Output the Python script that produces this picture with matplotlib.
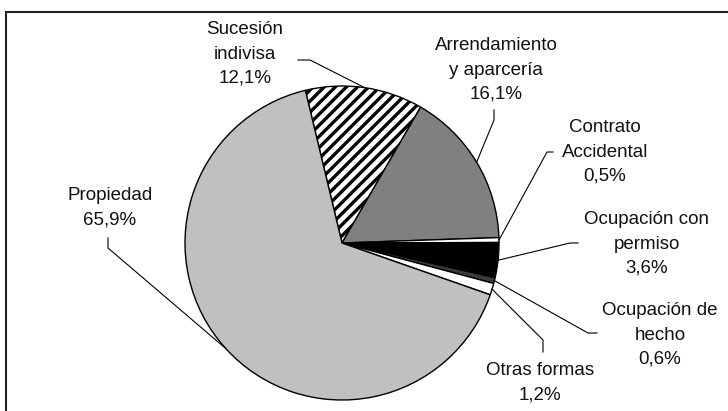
import numpy as np
import matplotlib.pyplot as plt
from matplotlib.patches import Rectangle

plt.rcParams['font.family'] = ['Liberation Sans', 'DejaVu Sans']
plt.rcParams['hatch.linewidth'] = 2.4

# ── datos ──────────────────────────────────────────────────────────────
categorias = ["Sucesión\nindivisa", "Arrendamiento\ny aparcería", "Contrato\nAccidental",
              "Ocupación con\npermiso", "Ocupación de\nhecho", "Otras formas", "Propiedad"]
porcentajes = [12.1, 16.1, 0.5, 3.6, 0.6, 1.2, 65.9]
colores = ["white", "#808080", "white", "black", "#3a3a3a", "white", "#c0c0c0"]
tramas = ["///", None, None, None, None, None, None]

# posiciones en pixeles de la imagen (y hacia abajo): texto y quiebre de la guía
W, H = 728, 411
CX, CY, R = 342, 243, 157
texto_xy = [(245, 54), (496, 70), (605, 152), (647, 244), (660, 335), (540, 383), (110, 208)]
quiebre = [[(298, 60), (310, 60)], [(494, 110), (494, 120)], [(553, 152), (547, 152)],
           [(578, 243), (570, 243)], [(597, 333), (588, 333)], [(543, 352), (543, 340)],
           [(108, 238), (108, 248)]]

fig = plt.figure(figsize=(W / 100, H / 100), dpi=100)
ax = fig.add_axes([0, 0, 1, 1])

# marco del área del gráfico (cortado a la derecha y abajo)
ax.add_patch(Rectangle((6, -20), W + 20, H - 12 + 20, fill=False, ec="#222222", lw=1.5))

wedges, _ = ax.pie(porcentajes, colors=colores, startangle=103.5, counterclock=False,
                   center=(CX, H - CY), radius=R, frame=True,
                   wedgeprops=dict(edgecolor="black", linewidth=1.0))
for w, h in zip(wedges, tramas):
    if h:
        w.set_hatch(h)
ax.set_xlim(0, W)
ax.set_ylim(0, H)
ax.set_aspect("equal")
ax.axis("off")

for w, lab, pct, (tx, ty), pts in zip(wedges, categorias, porcentajes, texto_xy, quiebre):
    ang = np.deg2rad((w.theta1 + w.theta2) / 2)
    ex, ey = CX + R * np.cos(ang), (H - CY) + R * np.sin(ang)
    xs = [p[0] for p in pts] + [ex]
    ys = [H - p[1] for p in pts] + [ey]
    ax.plot(xs, ys, color="black", lw=0.8)
    txt = f"{lab}\n{pct:.1f}%".replace(".", ",")
    ax.text(tx, H - ty, txt, ha="center", va="center", fontsize=13.5,
            color="#111111", linespacing=1.55)

fig.savefig("out.png", dpi=100)
